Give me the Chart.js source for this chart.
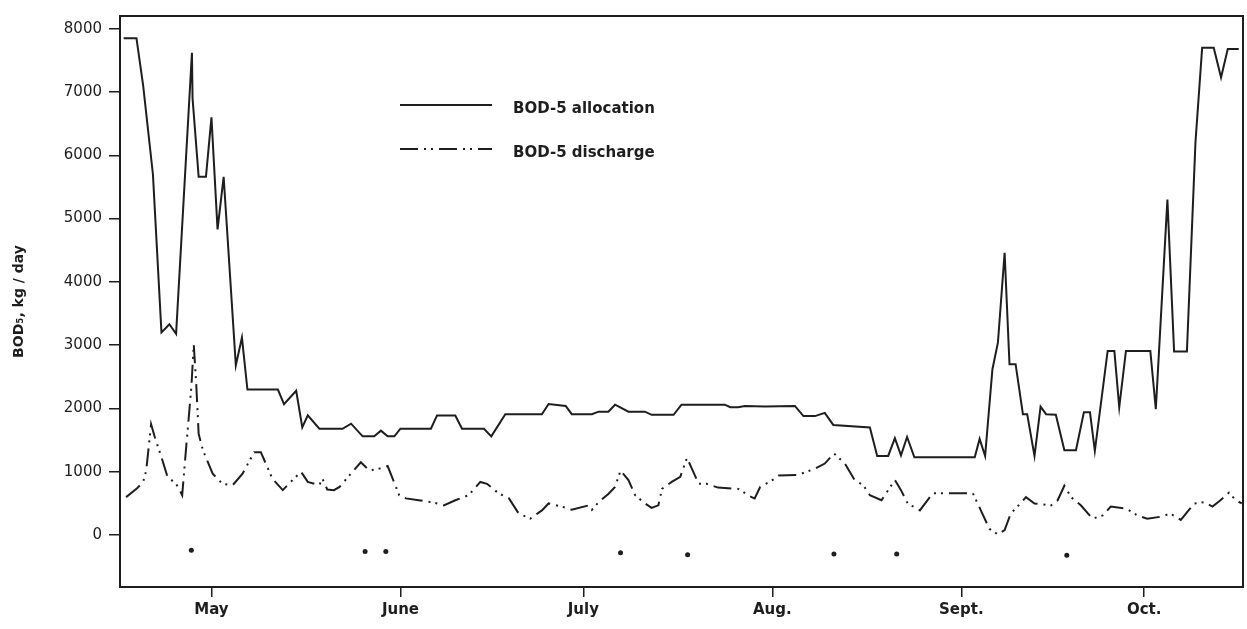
<!DOCTYPE html>
<html><head><meta charset="utf-8">
<script src="https://cdn.jsdelivr.net/npm/chart.js@4.4.1/dist/chart.umd.min.js"></script>
<style>html,body{margin:0;padding:0;background:#fff}</style>
</head><body>
<canvas id="c" width="1247" height="629"></canvas>
<script>
// x = days after 1 May
const monthTickDays = [0, 31, 61, 92, 123, 153];
const monthLabels = ['May', 'June', 'July', 'Aug.', 'Sept.', 'Oct.'];
const yTicks = [0, 1000, 2000, 3000, 4000, 5000, 6000, 7000, 8000];

const allocDays = [-14.4,-12.3,-11.2,-9.6,-8.2,-6.9,-5.8,-3.2,-3.1,-2.1,-0.9,0.0,1.0,2.0,4.0,5.0,5.9,10.9,11.9,13.9,14.9,15.8,17.7,21.5,22.9,24.8,26.7,27.8,28.9,30.0,31.0,36.0,37.0,40.0,41.1,44.7,45.9,48.2,54.2,55.3,58.1,59.1,62.4,63.5,65.1,66.2,68.4,71.1,72.2,75.8,77.1,84.2,85.1,86.4,87.5,90.8,95.7,97.1,99.0,100.6,102.0,108.0,109.2,111.0,112.1,113.1,114.1,115.3,125.2,126.0,126.9,128.1,129.0,130.1,130.9,131.9,133.1,133.8,135.0,136.0,136.9,138.5,139.9,141.8,143.1,144.1,144.9,147.0,148.1,148.9,150.0,154.0,154.9,156.8,157.9,160.0,161.4,162.5,164.4,165.6,166.7,168.5];
const allocValues = [7850,7850,7100,5700,3200,3330,3180,7620,6900,5660,5660,6600,4830,5660,2680,3120,2300,2300,2070,2280,1700,1890,1680,1680,1760,1560,1560,1650,1560,1560,1680,1680,1890,1890,1680,1680,1560,1910,1910,2070,2040,1910,1910,1950,1950,2060,1950,1950,1900,1900,2060,2060,2020,2020,2040,2030,2040,1880,1880,1930,1740,1700,1250,1250,1530,1260,1550,1230,1230,1520,1250,2620,3040,4460,2700,2700,1910,1910,1250,2030,1910,1900,1340,1340,1940,1940,1330,2910,2910,2020,2910,2910,1990,5300,2900,2900,6200,7700,7700,7230,7680,7680];

const dischDays = [-14.0,-12.3,-11.2,-10.7,-9.9,-9.3,-8.2,-7.2,-5.8,-5.2,-4.8,-4.1,-3.3,-2.9,-2.5,-2.1,-1.4,0.2,1.8,3.5,5.1,7.0,8.1,10.0,11.7,13.3,14.7,15.8,17.7,18.2,19.0,20.1,21.0,22.6,24.5,25.9,27.5,28.9,30.8,31.9,34.0,36.2,38.1,40.0,42.2,44.1,45.2,47.1,48.8,50.4,52.3,54.2,55.3,57.5,59.1,61.9,62.4,63.5,65.1,66.2,67.1,68.4,69.5,71.1,72.2,73.3,73.9,75.5,76.9,78.0,78.8,79.9,81.2,83.1,86.4,88.6,89.1,90.0,92.4,93.0,96.2,99.0,100.6,102.1,103.9,105.5,106.9,108.0,109.9,112.1,113.1,114.2,116.2,118.3,119.7,124.9,126.2,127.6,129.0,130.1,131.1,132.2,133.6,135.0,137.7,138.8,139.9,141.0,142.6,144.5,146.2,147.5,150.0,151.9,153.5,155.7,157.3,159.0,160.1,161.2,162.8,164.2,165.5,166.9,168.0,169.0];
const dischValues = [600,730,840,1020,1750,1550,1230,920,810,710,630,1440,2330,3010,2390,1600,1340,970,810,790,970,1310,1310,890,710,870,1000,840,790,890,720,710,760,940,1150,1020,1050,1090,630,580,550,520,470,550,630,840,810,660,580,340,260,390,500,450,400,470,400,520,650,760,1020,870,630,500,430,470,730,840,920,1220,1050,810,810,750,730,600,580,760,890,940,950,1050,1130,1290,1130,870,790,630,550,870,710,500,390,660,660,660,390,100,10,80,340,450,600,500,470,550,780,600,470,260,310,450,420,310,260,290,340,240,370,500,520,450,550,670,550,500];

const starDays = [-3.3, 25.2, 28.6, 67.1, 78.1, 102.1, 112.4, 140.3];
const starValues = [-240, -260, -260, -280, -310, -300, -300, -320];

const FONT = "'DejaVu Sans', sans-serif";
const INK = '#1e1e1e';

const toPts = (xs, ys) => xs.map((x, i) => ({x: x, y: ys[i]}));

const framePlugin = {
  id: 'frame',
  afterDatasetsDraw(chart) {
    const {ctx, chartArea: a} = chart;
    ctx.save();
    ctx.strokeStyle = INK;
    ctx.lineWidth = 2;
    ctx.strokeRect(a.left, a.top, a.right - a.left, a.bottom - a.top);
    ctx.restore();
  }
};

const inLegend = {
  id: 'inLegend',
  afterDraw(chart) {
    const {ctx, chartArea: a} = chart;
    const x0 = a.left + 280, x1 = a.left + 372, tx = a.left + 393;
    const rows = [a.top + 89, a.top + 133];
    ctx.save();
    [0, 1].forEach((di, r) => {
      const ds = chart.data.datasets[di];
      ctx.strokeStyle = ds.borderColor;
      ctx.lineWidth = ds.borderWidth;
      ctx.setLineDash(ds.borderDash || []);
      ctx.beginPath();
      ctx.moveTo(x0, rows[r]);
      ctx.lineTo(x1, rows[r]);
      ctx.stroke();
      ctx.setLineDash([]);
      ctx.fillStyle = INK;
      ctx.font = "bold 15px " + FONT;
      ctx.textBaseline = 'middle';
      ctx.textAlign = 'left';
      ctx.fillText(ds.label, tx, rows[r] + 4);
    });
    ctx.restore();
  }
};

new Chart(document.getElementById('c'), {
  type: 'line',
  data: {
    datasets: [
      {label: 'BOD-5 allocation', data: toPts(allocDays, allocValues), borderColor: INK, borderWidth: 2, pointRadius: 0, tension: 0},
      {label: 'BOD-5 discharge', data: toPts(dischDays, dischValues), borderColor: INK, borderWidth: 2, borderDash: [18, 6, 2, 5, 2, 6], pointRadius: 0, tension: 0},
      {label: 'marks', data: toPts(starDays, starValues), showLine: false, pointRadius: 2.5, pointBackgroundColor: INK, pointBorderColor: INK, pointBorderWidth: 0}
    ]
  },
  options: {
    responsive: false,
    animation: false,
    layout: {padding: {top: 12, right: -3, left: 0, bottom: 0}},
    plugins: {legend: {display: false}, tooltip: {enabled: false}},
    scales: {
      x: {
        type: 'linear', min: -15, max: 169.2,
        afterBuildTicks: s => { s.ticks = monthTickDays.map(v => ({value: v})); },
        afterFit: s => { s.height = 42; s.paddingRight = 0; },
        ticks: {autoSkip: false, maxRotation: 0, padding: 4, color: INK, font: {family: FONT, size: 15, weight: 'bold'},
          callback: (v, i) => monthLabels[i]},
        grid: {display: true, drawOnChartArea: false, drawTicks: true, tickLength: 10, color: INK, lineWidth: 1.5},
        border: {display: false}
      },
      y: {
        type: 'linear', min: -820, max: 8200,
        afterBuildTicks: s => { s.ticks = yTicks.map(v => ({value: v})); },
        afterFit: s => { s.width = 120; },
        ticks: {padding: 7, color: INK, font: {family: FONT, size: 15}, callback: v => String(v)},
        grid: {display: true, drawOnChartArea: false, drawTicks: true, tickLength: 11, color: INK, lineWidth: 1.5},
        border: {display: false},
        title: {display: true, text: 'BOD₅, kg / day', color: INK, font: {family: FONT, size: 14, weight: 'bold'}, padding: {top: 11, bottom: 0}}
      }
    }
  },
  plugins: [framePlugin, inLegend]
});
</script>
</body></html>
